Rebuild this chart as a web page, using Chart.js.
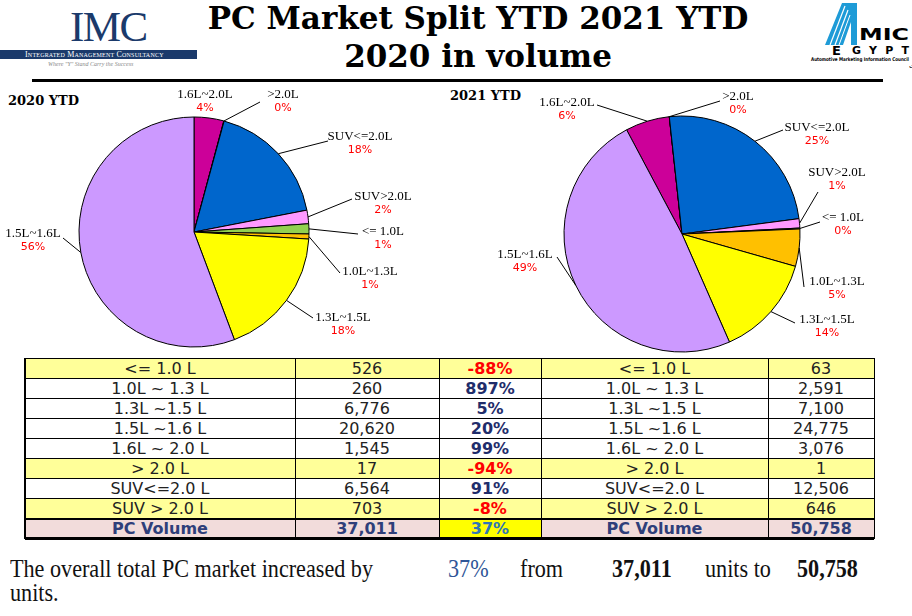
<!DOCTYPE html>
<html><head><meta charset="utf-8">
<script src="https://cdn.jsdelivr.net/npm/chart.js@4/dist/chart.umd.min.js"></script>
<style>
html,body{margin:0;padding:0;}
body{width:912px;height:616px;background:#fff;position:relative;overflow:hidden;font-family:"DejaVu Sans",sans-serif;}
.abs{position:absolute;white-space:nowrap;}
.title{left:0;width:956px;text-align:center;font-family:"DejaVu Serif",serif;font-weight:bold;font-size:31px;line-height:31px;color:#000;}
.ytd{font-family:"DejaVu Serif",serif;font-weight:bold;font-size:13px;line-height:13px;color:#000;}
.cell{position:absolute;display:flex;align-items:center;justify-content:center;font-size:16px;color:#222;white-space:nowrap;}
.hl{position:absolute;background:#000;}
.btxt{font-family:"Liberation Serif",serif;font-size:25px;line-height:25px;color:#111;transform-origin:0 0;}
</style></head><body>

<!-- IMC logo -->
<div class="abs" style="left:70px;top:5px;font-family:'Liberation Serif',serif;font-size:43px;line-height:43px;color:#1B3A6B;letter-spacing:-1.5px;">IMC</div>
<div class="abs" style="left:0;top:50px;width:197px;height:9px;background:#1B3A6B;"></div>
<div class="abs" style="left:25px;top:50px;width:147px;font-family:'Liberation Serif',serif;font-size:8px;line-height:9px;color:#fff;font-variant:small-caps;letter-spacing:0.2px;">Integrated Management Consultancy</div>
<div class="abs" style="left:48px;top:61px;font-family:'Liberation Serif',serif;font-style:italic;font-size:6px;line-height:7px;color:#888;">Where "Y" Stand Carry the Success</div>

<!-- AMIC logo -->
<svg class="abs" style="left:800px;top:0;" width="112" height="72" viewBox="800 0 112 72">
  <polygon points="825,45 842,3 857,3 857,45 851,45 851,22 843,45" fill="#1E9BD7"/>
  <line x1="830" y1="45" x2="845" y2="6" stroke="#fff" stroke-width="1.2"/>
  <line x1="835" y1="45" x2="848" y2="10" stroke="#fff" stroke-width="1.2"/>
  <line x1="839" y1="45" x2="850" y2="15" stroke="#fff" stroke-width="1"/>
  <text x="859" y="40" font-family="DejaVu Sans" font-weight="bold" font-size="15" fill="#000" textLength="50" lengthAdjust="spacingAndGlyphs">MIC</text>
  <text x="832" y="55" font-family="DejaVu Sans" font-weight="bold" font-size="13" fill="#000">E</text>
  <text x="852" y="54" font-family="DejaVu Sans" font-weight="bold" font-size="11" fill="#000" textLength="57" lengthAdjust="spacing">GYPT</text>
  <text x="811" y="61" font-family="DejaVu Sans" font-weight="bold" font-size="5" fill="#000" textLength="98" lengthAdjust="spacingAndGlyphs">Automotive Marketing Information Council</text>
  <text x="909" y="68" font-family="DejaVu Sans" font-size="7" fill="#000" text-anchor="end" textLength="97" lengthAdjust="spacingAndGlyphs" direction="rtl">مجلس معلومات سوق السيارات</text>
</svg>

<div class="abs title" style="top:3px;">PC Market Split YTD 2021 YTD</div>
<div class="abs title" style="top:41px;">2020 in volume</div>
<div class="abs" style="left:32px;top:79px;width:851px;height:3px;background:#000;"></div>

<div class="abs ytd" style="left:8px;top:94px;">2020 YTD</div>
<div class="abs ytd" style="left:450px;top:89px;">2021 YTD</div>

<canvas id="pie2020" class="abs" style="left:0;top:80px;" width="450" height="275"></canvas>
<canvas id="pie2021" class="abs" style="left:450px;top:80px;" width="462" height="275"></canvas>

<div id="table"></div>

<div class="abs btxt" id="b1" style="left:10px;top:556px;">The overall total PC market increased by</div>
<div class="abs btxt" id="b2" style="left:448px;top:556px;color:#2F5597;">37%</div>
<div class="abs btxt" id="b3" style="left:520px;top:556px;">from</div>
<div class="abs btxt" id="b4" style="left:612px;top:556px;font-weight:bold;">37,011</div>
<div class="abs btxt" id="b5" style="left:705px;top:556px;">units to</div>
<div class="abs btxt" id="b6" style="left:797px;top:556px;font-weight:bold;">50,758</div>
<div class="abs btxt" id="b7" style="left:10px;top:580px;">units.</div>

<script>
// ---------------- DATA ----------------
const tableCategories = ['<= 1.0 L','1.0L ~ 1.3 L','1.3L ~1.5 L','1.5L ~1.6 L','1.6L ~ 2.0 L','> 2.0 L','SUV<=2.0 L','SUV > 2.0 L'];
const pieCategories   = ['<= 1.0L','1.0L~1.3L','1.3L~1.5L','1.5L~1.6L','1.6L~2.0L','>2.0L','SUV<=2.0L','SUV>2.0L'];
const volume2020 = [526, 260, 6776, 20620, 1545, 17, 6564, 703];
const volume2021 = [63, 2591, 7100, 24775, 3076, 1, 12506, 646];
const growthLabels = ['-88%','897%','5%','20%','99%','-94%','91%','-8%'];
const totalLabel = 'PC Volume';
const total2020 = 37011;
const total2021 = 50758;
const totalGrowth = '37%';
// order in which the slices run clockwise in the pies
const pieOrder = [4, 5, 6, 7, 0, 1, 2, 3];

// ---------------- STYLE / LAYOUT ----------------
const sliceColors = ['#CC0099','#E00000','#0066CC','#FF99FF','#92D050','#FFC000','#FFFF00','#CC99FF'];
// label placement relative to pie centre: [labelDx, labelDy, leaderEndDx, leaderEndDy] (null = no leader)
const labelLayout2020 = [[11,-137,null,null],[89,-137,66,-130],[166,-95,134,-91],[189,-35,158,-33],[189,0,164,2],[176,40,146,41],[149,86,119,86],[-161,2,-131,6]];
const labelLayout2021 = [[-115,-131,-85,-129],[56,-137,38,-133],[135,-106,101,-104],[155,-61,136,-42],[161,-16,138,-12],[155,48,122,53],[145,86,113,89],[-157,21,-125,23]];

const fmt = n => n.toLocaleString('en-US');

const pieLabels = {
  id: 'pieLabels',
  afterDatasetsDraw(chart, args, opts) {
    const ctx = chart.ctx;
    const meta = chart.getDatasetMeta(0);
    const data = chart.data.datasets[0].data;
    const total = data.reduce((a, b) => a + b, 0);
    ctx.save();
    meta.data.forEach((arc, i) => {
      const p = arc.getProps(['x','y','startAngle','endAngle','outerRadius'], true);
      const mid = (p.startAngle + p.endAngle) / 2;
      const ax = p.x + Math.cos(mid) * p.outerRadius;
      const ay = p.y + Math.sin(mid) * p.outerRadius;
      const L = opts.layout[i];
      if (L[2] !== null) {
        ctx.strokeStyle = '#000'; ctx.lineWidth = 1;
        ctx.beginPath(); ctx.moveTo(ax, ay); ctx.lineTo(p.x + L[2], p.y + L[3]); ctx.stroke();
      }
      const lx = p.x + L[0], ly = p.y + L[1];
      ctx.textAlign = 'center'; ctx.textBaseline = 'middle';
      ctx.fillStyle = '#000'; ctx.font = '13px "Liberation Serif"';
      ctx.fillText(chart.data.labels[i], lx, ly);
      ctx.fillStyle = '#FF0000'; ctx.font = '11px "DejaVu Sans"';
      ctx.fillText(Math.round(data[i] / total * 100) + '%', lx, ly + 13);
    });
    ctx.restore();
  }
};

function makePie(id, values, rotation, radius, padding, layout) {
  new Chart(document.getElementById(id), {
    type: 'pie',
    data: {
      labels: pieOrder.map(k => pieCategories[k]),
      datasets: [{
        data: pieOrder.map(k => values[k]),
        backgroundColor: sliceColors,
        borderColor: '#000',
        borderWidth: 1
      }]
    },
    options: {
      responsive: false, animation: false,
      rotation: rotation, radius: radius,
      layout: { padding: padding },
      plugins: { legend: { display: false }, tooltip: { enabled: false }, pieLabels: { layout: layout } }
    },
    plugins: [pieLabels]
  });
}
makePie('pie2020', volume2020, 0, 115, {left:0, right:62, top:29, bottom:0}, labelLayout2020);
makePie('pie2021', volume2021, -28, 118, {left:2, right:0, top:33, bottom:0}, labelLayout2021);

// ---------------- TABLE ----------------
const colX = [25, 295, 439, 541, 768, 874];
const rowTop = 358, rowH = 20;
const tbl = document.getElementById('table');
function cell(c, r, text, bg, style) {
  const d = document.createElement('div');
  d.className = 'cell';
  d.style.left = colX[c] + 'px'; d.style.top = (rowTop + r * rowH) + 'px';
  d.style.width = (colX[c + 1] - colX[c]) + 'px'; d.style.height = rowH + 'px';
  d.style.background = bg;
  d.textContent = text;
  Object.assign(d.style, style || {});
  tbl.appendChild(d);
}
tableCategories.forEach((cat, r) => {
  const neg = growthLabels[r].startsWith('-');
  const bg = neg ? '#FFFF99' : '#FFFFFF';
  cell(0, r, cat, bg);
  cell(1, r, fmt(volume2020[r]), bg);
  cell(2, r, growthLabels[r], bg, {fontWeight: 'bold', color: neg ? '#FF0000' : '#1F2D6B'});
  cell(3, r, cat, bg);
  cell(4, r, fmt(volume2021[r]), bg);
});
const tr = tableCategories.length;
const totStyle = {fontWeight: 'bold', color: '#2F3F7A'};
cell(0, tr, totalLabel, '#F2DCDB', totStyle);
cell(1, tr, fmt(total2020), '#F2DCDB', totStyle);
cell(2, tr, totalGrowth, '#FFFF00', {fontWeight: 'bold', color: '#2E75B6'});
cell(3, tr, totalLabel, '#F2DCDB', totStyle);
cell(4, tr, fmt(total2021), '#F2DCDB', totStyle);
function line(x, y, w, h) {
  const d = document.createElement('div'); d.className = 'hl';
  d.style.left = x + 'px'; d.style.top = y + 'px'; d.style.width = w + 'px'; d.style.height = h + 'px';
  tbl.appendChild(d);
}
const tableBottom = rowTop + (tr + 1) * rowH;
for (let r = 0; r <= tr; r++) line(colX[0], rowTop + r * rowH, colX[5] - colX[0], r === tr ? 2 : 1);
line(colX[0], tableBottom - 1, colX[5] - colX[0], 3);
colX.forEach((x, i) => line(i === 0 ? x - 1 : x, rowTop, i === 0 ? 2 : 1, tableBottom - rowTop + 1));

// bottom sentence: condensed look
function squeeze(id, f) { document.getElementById(id).style.transform = 'scaleX(' + f + ')'; }
const bw = document.getElementById('b1').getBoundingClientRect().width;
const f = 363 / bw;
['b1','b2','b3','b4','b5','b6','b7'].forEach(id => squeeze(id, f));
</script>
</body></html>
